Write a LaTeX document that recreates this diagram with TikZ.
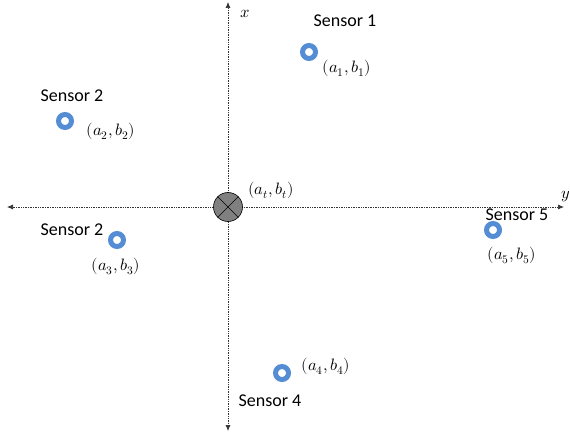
\documentclass[tikz,border=0pt]{standalone}
\usepackage{fontspec}
\setmainfont{Carlito}
\usepackage{unicode-math}
\setmathfont{Latin Modern Math}
\usetikzlibrary{arrows.meta}
\definecolor{ringblue}{RGB}{84,141,212}
\begin{document}
\begin{tikzpicture}[x=1pt,y=-1pt,
  sensor/.style={circle,draw=ringblue,line width=5pt,minimum size=13pt,inner sep=0pt},
  lab/.style={font=\fontsize{18}{20}\selectfont,inner sep=0pt},
  coord/.style={font=\fontsize{16.5}{18}\selectfont,inner sep=0pt},
  axis/.style={densely dotted,line width=0.7pt,draw=black!80,{Latex[length=6pt,width=5pt]}-{Latex[length=6pt,width=5pt]}}]
\useasboundingbox (0,0) rectangle (570,433);
% axes
\coordinate (top) at (228,2);
\coordinate (bot) at (228,431);
\coordinate (lft) at (7,207);
\coordinate (rgt) at (564,207);
\draw[axis] (bot) -- (top);
\draw[axis] (lft) -- (rgt);
\node[coord] (xl) at (245,14) {$x$};
\node[coord] (yl) at (566,197) {$y$};
% target
\node[circle,draw=black,fill=gray,minimum size=29pt,inner sep=0pt,line width=0.6pt] (t) at (228,207) {};
\draw[line width=0.5pt] (t.north east) -- (t.south west) (t.north west) -- (t.south east);
\node[coord] (tl) at (271,190) {$(a_t,b_t)$};
% sensors
\node[sensor] (s1) at (309,52) {};
\node[lab] (s1n) at (345,21) {Sensor 1};
\node[coord] (s1c) at (347,68) {$(a_1,b_1)$};
\node[sensor] (s2) at (65,121) {};
\node[lab] (s2n) at (72,96) {Sensor 2};
\node[coord] (s2c) at (111,131) {$(a_2,b_2)$};
\node[sensor] (s3) at (117,240) {};
\node[lab] (s3n) at (72,230) {Sensor 2};
\node[coord] (s3c) at (116,266) {$(a_3,b_3)$};
\node[sensor] (s5) at (493,230) {};
\node[lab] (s5n) at (517,215) {Sensor 5};
\node[coord] (s5c) at (512,255) {$(a_5,b_5)$};
\node[sensor] (s4) at (282,373) {};
\node[lab] (s4n) at (270,401) {Sensor 4};
\node[coord] (s4c) at (326,366) {$(a_4,b_4)$};
\end{tikzpicture}
\end{document}
